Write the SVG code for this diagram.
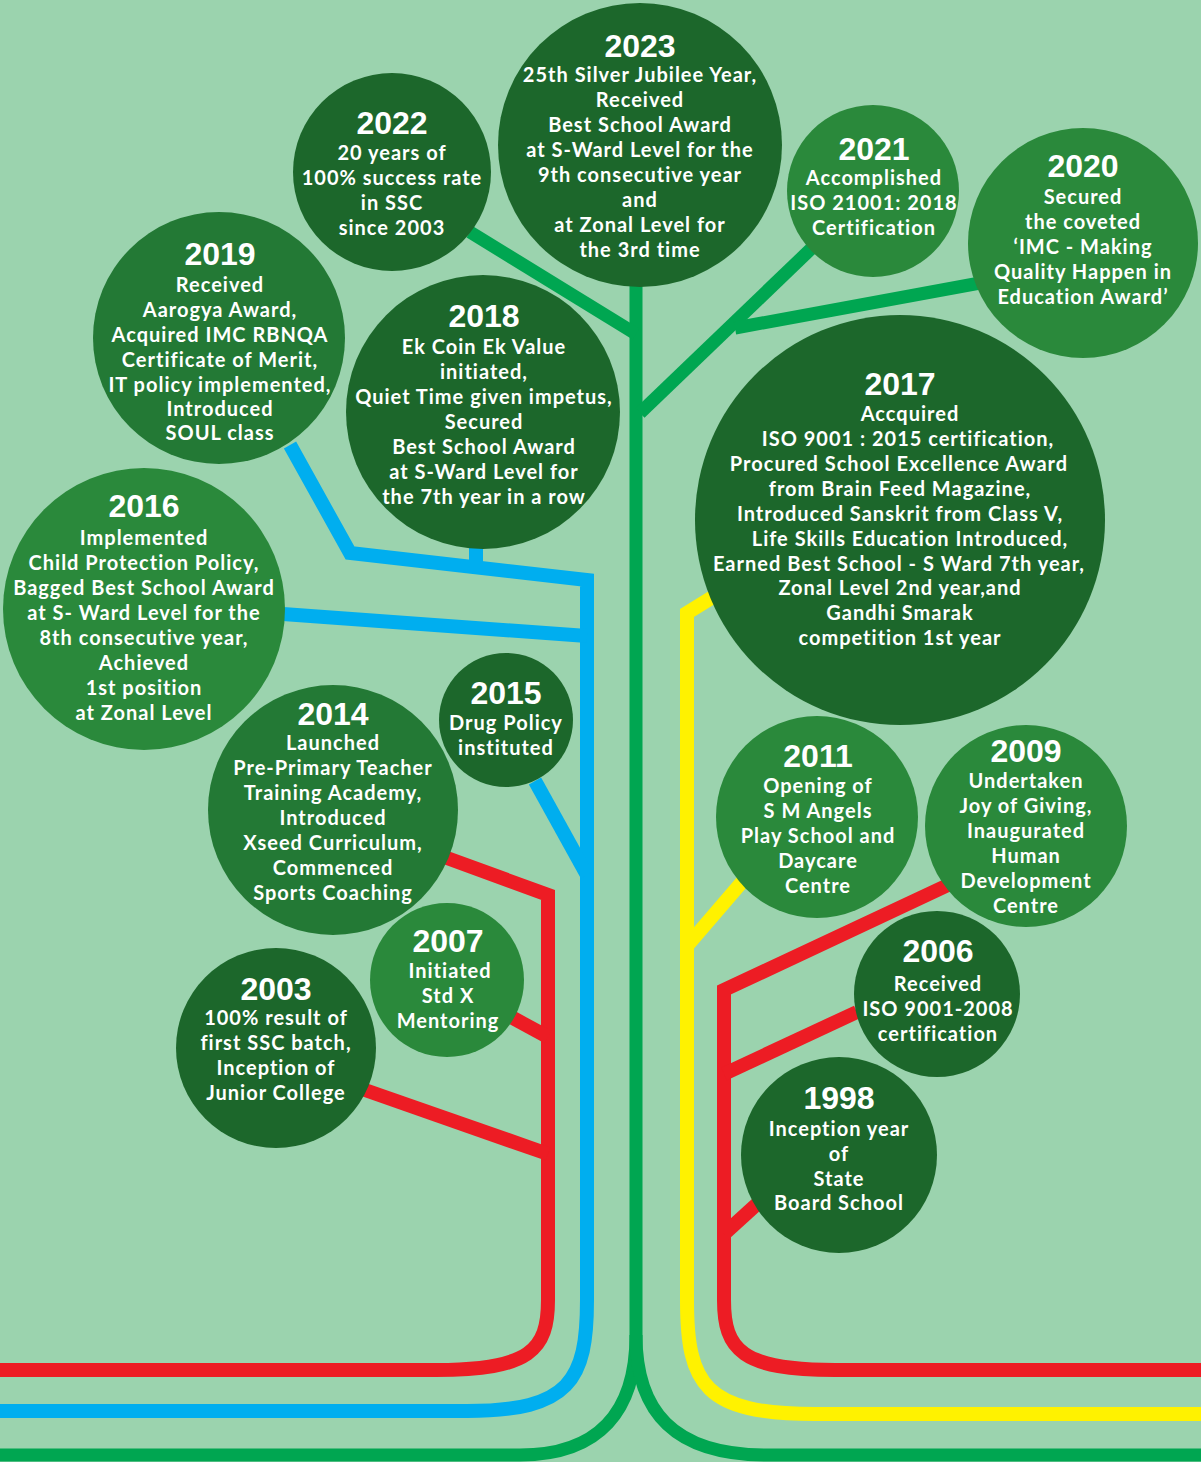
<svg xmlns="http://www.w3.org/2000/svg" width="1201" height="1462" viewBox="0 0 1201 1462">
<style>
.ln{fill:none;stroke-linejoin:miter;stroke-linecap:butt}
.g{stroke:#00a651;stroke-width:13}
.b{stroke:#00aeef;stroke-width:14}
.r{stroke:#ed1c24;stroke-width:14}
.y{stroke:#fff200;stroke-width:14}
.dk{fill:#1c672b}
.md{fill:#2a893b}
.mi{fill:#237935}
.yr{font-family:"Liberation Sans",Arial,sans-serif;font-weight:700;font-size:32px;fill:#fff;text-anchor:middle}
.tx{font-family:Lato,"Liberation Sans",sans-serif;font-weight:700;font-size:20px;letter-spacing:1px;fill:#fff;text-anchor:middle}
</style>
<rect width="1201" height="1462" fill="#9bd3ae"/>
<g id="connectors">
  <path class="ln g" d="M636,280 V1335"/>
  <path class="ln g" d="M636,1335 C636,1410 600,1455 520,1455 H0"/>
  <path class="ln g" d="M636,1335 C636,1410 672,1455 766,1455 H1201"/>
  <path class="ln g" d="M470,232 L636,334"/>
  <path class="ln g" d="M640,413 L815,245"/>
  <path class="ln g" d="M735,328 L980,283"/>
  <path class="ln b" d="M290,445 L350,553 L587,580 V1300 C587,1380 570,1411 467,1411 H0"/>
  <path class="ln b" d="M476,540 V568"/>
  <path class="ln b" d="M283,614 L587,636"/>
  <path class="ln b" d="M535,781 L587,875"/>
  <path class="ln r" d="M447,858 L548,895 V1300 C548,1350 530,1370 436,1370 H0"/>
  <path class="ln r" d="M513,1018 L548,1037"/>
  <path class="ln r" d="M365,1090 L548,1154"/>
  <path class="ln r" d="M948,885 L724,990 V1300 C724,1350 742,1370 835,1370 H1201"/>
  <path class="ln r" d="M857,1012 L724,1074"/>
  <path class="ln r" d="M757,1204 L724,1234"/>
  <path class="ln y" d="M716,595 L687,613 V1300 C687,1385 705,1414 815,1414 H1201"/>
  <path class="ln y" d="M742,882 L687,946"/>
</g>
<g id="n2023"><circle class="dk" cx="640" cy="145" r="142"/>
<text class="yr" x="640" y="57">2023</text>
<text class="tx" x="640" y="82"><tspan x="640">25th Silver Jubilee Year,</tspan><tspan x="640" dy="25">Received</tspan><tspan x="640" dy="25">Best School Award</tspan><tspan x="640" dy="25">at S-Ward Level for the</tspan><tspan x="640" dy="25">9th consecutive year</tspan><tspan x="640" dy="25">and</tspan><tspan x="640" dy="25">at Zonal Level for</tspan><tspan x="640" dy="25">the 3rd time</tspan></text></g>
<g id="n2022"><circle class="dk" cx="392" cy="172" r="99"/>
<text class="yr" x="392" y="134">2022</text>
<text class="tx" x="392" y="160"><tspan x="392">20 years of</tspan><tspan x="392" dy="25">100% success rate</tspan><tspan x="392" dy="25">in SSC</tspan><tspan x="392" dy="25">since 2003</tspan></text></g>
<g id="n2021"><circle class="md" cx="873" cy="191" r="86"/>
<text class="yr" x="874" y="160">2021</text>
<text class="tx" x="874" y="185"><tspan x="874">Accomplished</tspan><tspan x="874" dy="25">ISO 21001: 2018</tspan><tspan x="874" dy="25">Certification</tspan></text></g>
<g id="n2020"><circle class="md" cx="1083" cy="243" r="115"/>
<text class="yr" x="1083" y="177">2020</text>
<text class="tx" x="1083" y="204"><tspan x="1083">Secured</tspan><tspan x="1083" dy="25">the coveted</tspan><tspan x="1083" dy="25">‘IMC - Making</tspan><tspan x="1083" dy="25">Quality Happen in</tspan><tspan x="1083" dy="25">Education Award’</tspan></text></g>
<g id="n2019"><circle class="mi" cx="219" cy="338" r="126"/>
<text class="yr" x="220" y="265">2019</text>
<text class="tx" x="220" y="292"><tspan x="220">Received</tspan><tspan x="220" dy="25">Aarogya Award,</tspan><tspan x="220" dy="25">Acquired IMC RBNQA</tspan><tspan x="220" dy="25">Certificate of Merit,</tspan><tspan x="220" dy="25">IT policy implemented,</tspan><tspan x="220" dy="24">Introduced</tspan><tspan x="220" dy="24">SOUL class</tspan></text></g>
<g id="n2018"><circle class="dk" cx="483" cy="412" r="137"/>
<text class="yr" x="484" y="327">2018</text>
<text class="tx" x="484" y="354"><tspan x="484">Ek Coin Ek Value</tspan><tspan x="484" dy="25">initiated,</tspan><tspan x="484" dy="25">Quiet Time given impetus,</tspan><tspan x="484" dy="25">Secured</tspan><tspan x="484" dy="25">Best School Award</tspan><tspan x="484" dy="25">at S-Ward Level for</tspan><tspan x="484" dy="25">the 7th year in a row</tspan></text></g>
<g id="n2017"><circle class="dk" cx="900" cy="520" r="205"/>
<text class="yr" x="900" y="395">2017</text>
<text class="tx" x="900" y="421"><tspan x="910">Accquired</tspan><tspan x="908" dy="25">ISO 9001 : 2015 certification,</tspan><tspan x="899" dy="25">Procured School Excellence Award</tspan><tspan x="900" dy="25">from Brain Feed Magazine,</tspan><tspan x="900" dy="25">Introduced Sanskrit from Class V,</tspan><tspan x="910" dy="25">Life Skills Education Introduced,</tspan><tspan x="899" dy="25">Earned Best School - S Ward 7th year,</tspan><tspan x="900" dy="24">Zonal Level 2nd year,and</tspan><tspan x="900" dy="25">Gandhi Smarak</tspan><tspan x="900" dy="25">competition 1st year</tspan></text></g>
<g id="n2016"><circle class="md" cx="144" cy="609" r="141"/>
<text class="yr" x="144" y="517">2016</text>
<text class="tx" x="144" y="545"><tspan x="144">Implemented</tspan><tspan x="144" dy="25">Child Protection Policy,</tspan><tspan x="144" dy="25">Bagged Best School Award</tspan><tspan x="144" dy="25">at S- Ward Level for the</tspan><tspan x="144" dy="25">8th consecutive year,</tspan><tspan x="144" dy="25">Achieved</tspan><tspan x="144" dy="25">1st position</tspan><tspan x="144" dy="25">at Zonal Level</tspan></text></g>
<g id="n2015"><circle class="dk" cx="506" cy="720" r="67"/>
<text class="yr" x="506" y="704">2015</text>
<text class="tx" x="506" y="730"><tspan x="506">Drug Policy</tspan><tspan x="506" dy="25">instituted</tspan></text></g>
<g id="n2014"><circle class="mi" cx="333" cy="810" r="125"/>
<text class="yr" x="333" y="725">2014</text>
<text class="tx" x="333" y="750"><tspan x="333">Launched</tspan><tspan x="333" dy="25">Pre-Primary Teacher</tspan><tspan x="333" dy="25">Training Academy,</tspan><tspan x="333" dy="25">Introduced</tspan><tspan x="333" dy="25">Xseed Curriculum,</tspan><tspan x="333" dy="25">Commenced</tspan><tspan x="333" dy="25">Sports Coaching</tspan></text></g>
<g id="n2011"><circle class="md" cx="817" cy="817" r="101"/>
<text class="yr" x="818" y="767">2011</text>
<text class="tx" x="818" y="793"><tspan x="818">Opening of</tspan><tspan x="818" dy="25">S M Angels</tspan><tspan x="818" dy="25">Play School and</tspan><tspan x="818" dy="25">Daycare</tspan><tspan x="818" dy="25">Centre</tspan></text></g>
<g id="n2009"><circle class="md" cx="1026" cy="826" r="101"/>
<text class="yr" x="1026" y="762">2009</text>
<text class="tx" x="1026" y="788"><tspan x="1026">Undertaken</tspan><tspan x="1026" dy="25">Joy of Giving,</tspan><tspan x="1026" dy="25">Inaugurated</tspan><tspan x="1026" dy="25">Human</tspan><tspan x="1026" dy="25">Development</tspan><tspan x="1026" dy="25">Centre</tspan></text></g>
<g id="n2007"><circle class="md" cx="447" cy="980" r="77"/>
<text class="yr" x="448" y="952">2007</text>
<text class="tx" x="448" y="978"><tspan x="450">Initiated</tspan><tspan x="448" dy="25">Std X</tspan><tspan x="448" dy="25">Mentoring</tspan></text></g>
<g id="n2006"><circle class="dk" cx="937" cy="994" r="83"/>
<text class="yr" x="938" y="962">2006</text>
<text class="tx" x="938" y="991"><tspan x="938">Received</tspan><tspan x="938" dy="25">ISO 9001-2008</tspan><tspan x="938" dy="25">certification</tspan></text></g>
<g id="n2003"><circle class="dk" cx="276" cy="1048" r="100"/>
<text class="yr" x="276" y="1000">2003</text>
<text class="tx" x="276" y="1025"><tspan x="276">100% result of</tspan><tspan x="276" dy="25">first SSC batch,</tspan><tspan x="276" dy="25">Inception of</tspan><tspan x="276" dy="25">Junior College</tspan></text></g>
<g id="n1998"><circle class="dk" cx="839" cy="1155" r="98"/>
<text class="yr" x="839" y="1109">1998</text>
<text class="tx" x="839" y="1136"><tspan x="839">Inception year</tspan><tspan x="839" dy="25">of</tspan><tspan x="839" dy="25">State</tspan><tspan x="839" dy="24">Board School</tspan></text></g>
</svg>
